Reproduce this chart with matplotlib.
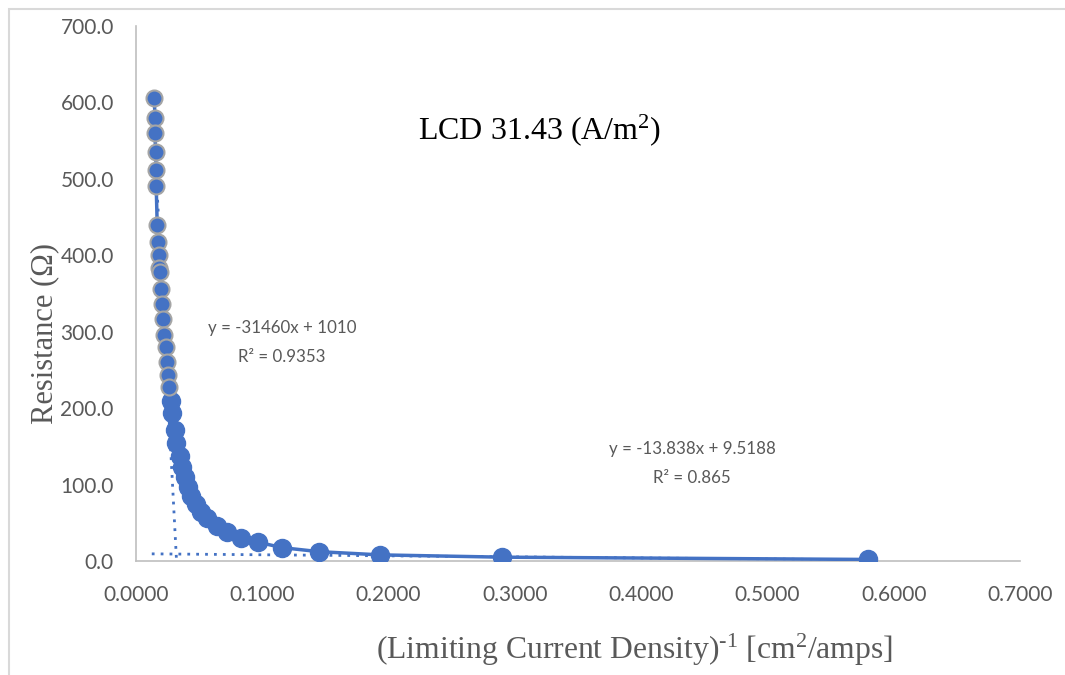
import matplotlib.pyplot as plt
from matplotlib.patches import Rectangle

plt.rcParams['mathtext.fontset'] = 'custom'
plt.rcParams['mathtext.rm'] = 'Liberation Serif'
plt.rcParams['mathtext.it'] = 'Liberation Serif'
plt.rcParams['mathtext.bf'] = 'Liberation Serif'

# series 1 (upper points, grey marker edge)
x_high = [0.0145, 0.0150, 0.0150, 0.0155, 0.0160, 0.0160, 0.0168, 0.0174, 0.0180,
          0.0186, 0.0190, 0.0198, 0.0203, 0.0214, 0.0224, 0.0235, 0.0243, 0.0253, 0.0261]
r_high = [606, 580, 560, 535, 511, 491, 439, 418, 400,
          384, 378, 356, 336, 317, 296, 280, 261, 243, 228]

# series 2 (lower points)
x_low = [0.0275, 0.0287, 0.0306, 0.0319, 0.0346, 0.0367, 0.0388, 0.0412, 0.0438,
         0.0473, 0.0515, 0.0560, 0.0639, 0.0718, 0.0834, 0.0968, 0.1160, 0.1450,
         0.1933, 0.2900, 0.5800]
r_low = [209, 193, 172, 155, 138, 123, 110, 97, 85,
         75, 64.5, 56, 46, 38, 30.5, 24.5, 17.4, 12.2,
         8.0, 5.0, 2.0]

# linear trendlines (slope, intercept) and their x ranges
fit1 = (-31460, 1010)
fit1_range = [0.0145, 0.0322]
fit2 = (-13.838, 9.5188)
fit2_range = [0.0125, 0.58]

xticks = [0.0, 0.1, 0.2, 0.3, 0.4, 0.5, 0.6, 0.7]
yticks = [0, 100, 200, 300, 400, 500, 600, 700]

blue = '#4472C4'
grey = '#595959'

fig = plt.figure(figsize=(10.65, 6.75), dpi=100)
ax = fig.add_axes([0.1277, 0.1689, 0.83, 0.7926])

# chart border
fig.patches.append(Rectangle((9 / 1065, -0.1), 1.2, 1 - 9 / 675 + 0.1, transform=fig.transFigure,
                             fill=False, edgecolor='#D9D9D9', lw=1.5))

# trendlines
for (m, b), rng in [(fit1, fit1_range), (fit2, fit2_range)]:
    ax.plot(rng, [m * v + b for v in rng], ls=(0, (1, 2.2)), color=blue, lw=2, zorder=2)

ax.plot(x_high + x_low, r_high + r_low, color=blue, lw=2.5, zorder=3)
ax.plot(x_low, r_low, 'o', ms=13, color=blue, mec=blue, zorder=4)
ax.plot(x_high, r_high, 'o', ms=11.5, color=blue, mec='#A5A5A5', mew=1.5, zorder=5)

ax.set_xlim(0, 0.7)
ax.set_ylim(0, 700)
ax.set_xticks(xticks)
ax.set_yticks(yticks)
ax.set_xticklabels([f'{v:.4f}' for v in xticks])
ax.set_yticklabels([f'{v:.1f}' for v in yticks])
ax.tick_params(length=0, labelsize=15, labelcolor=grey)
ax.tick_params(axis='x', pad=17)
ax.tick_params(axis='y', pad=16)
for lab in ax.get_xticklabels() + ax.get_yticklabels():
    lab.set_family('Lato')

for s in ['top', 'right']:
    ax.spines[s].set_visible(False)
for s in ['left', 'bottom']:
    ax.spines[s].set_color('#BFBFBF')
    ax.spines[s].set_linewidth(1.2)

fig.text(45 / 1065, 1 - 333 / 675, 'Resistance (Ω)', rotation=90, ha='center', va='center',
         family='Liberation Serif', fontsize=22, color=grey)
fig.text(634 / 1065, 1 - 650 / 675, r'(Limiting Current Density)$^{\text{-1}}$ [cm$^{2}$/amps]',
         ha='center', va='center', family='Liberation Serif', fontsize=22.8, color=grey)
fig.text(540 / 1065, 1 - 130 / 675, 'LCD 31.43 (A/m$^{2}$)', ha='center', va='center',
         family='Liberation Serif', fontsize=23, color='black')

fig.text(282 / 1065, 1 - 328 / 675, 'y = -31460x + 1010', ha='center', va='center',
         family='Lato', fontsize=12.2, color=grey)
fig.text(282 / 1065, 1 - 357 / 675, 'R² = 0.9353', ha='center', va='center',
         family='Lato', fontsize=12.2, color=grey)
fig.text(692 / 1065, 1 - 449 / 675, 'y = -13.838x + 9.5188', ha='center', va='center',
         family='Lato', fontsize=12.2, color=grey)
fig.text(692 / 1065, 1 - 478 / 675, 'R² = 0.865', ha='center', va='center',
         family='Lato', fontsize=12.2, color=grey)

fig.savefig('out.png', dpi=100)
